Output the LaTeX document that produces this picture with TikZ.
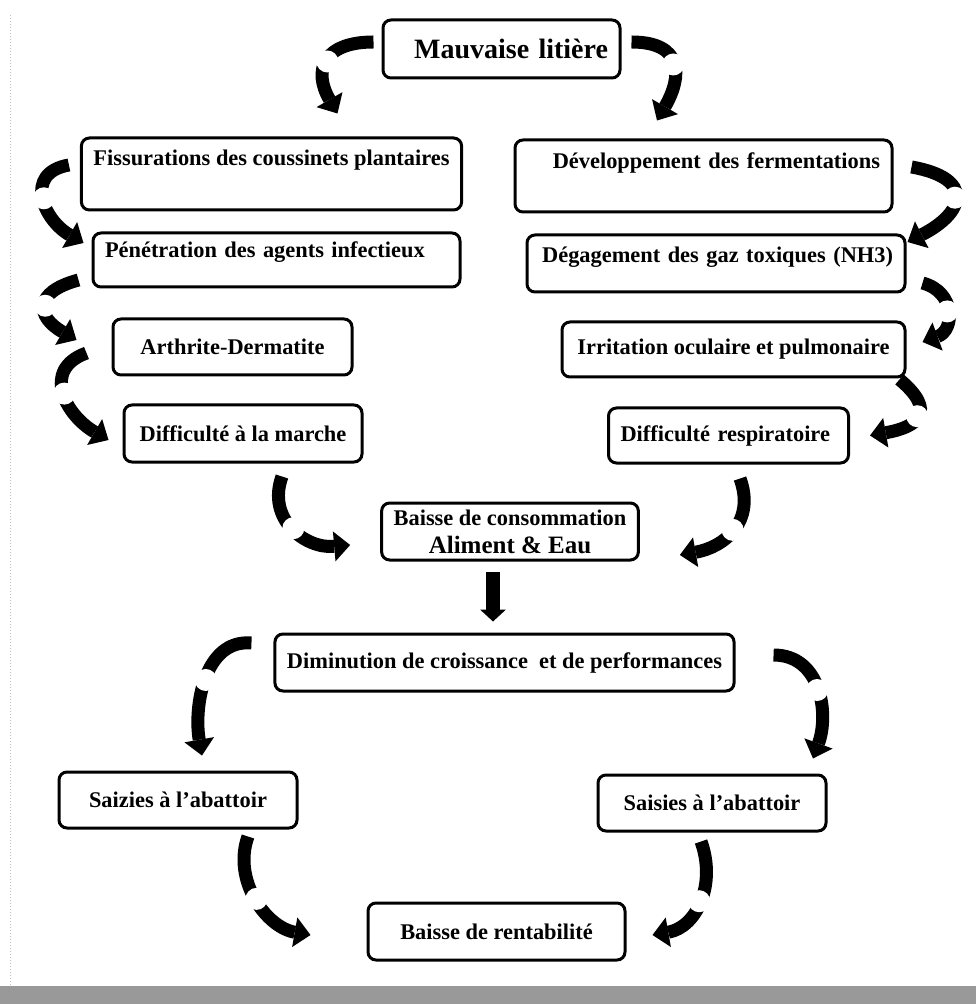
\documentclass[tikz,border=0pt]{standalone}
\usepackage{fontspec}
\setmainfont{Liberation Serif}
\usetikzlibrary{arrows.meta}
\tikzset{
  >={Triangle[length=8pt,width=15pt,line width=0pt]},
  % boites
  boite/.style={draw=black,line width=1.5pt,rounded corners=4pt,fill=white,
                inner xsep=6pt,inner ysep=0pt,font=\fontsize{11.2}{13}\selectfont\bfseries},
  titre/.style={boite,font=\fontsize{14}{16}\selectfont\bfseries},
  taille/.style 2 args={minimum width=#1,minimum height=#2},
  agauche/.style={align=left,text width=#1},
  adroite/.style={align=right,text width=#1},
  % fleches
  courbe/.style={->,draw=black,line width=6.5pt},
  coupe/.style={circle,fill=white,inner sep=0pt,minimum size=11pt},
  droite/.style={-{Triangle[length=6pt,width=13pt,line width=0pt]},draw=black,line width=7pt},
}
\begin{document}
\begin{tikzpicture}[x=0.5pt,y=0.5pt]
\useasboundingbox (0,0) rectangle (976,-1004);
  % bord du scan
  \draw[black!25,line width=0.5pt,densely dotted] (10,-15) -- (10,-985);
  \fill[black!40] (0,-986) rectangle (976,-1004);
  % boites
  \node[titre,taille={118.5pt}{29pt},adroite=106.5pt] (mauv) at (501.5,-49) {Mauvaise litière};
  \node[boite,taille={188.5pt}{36pt},text depth=16pt] (fiss) at (271.5,-174) {Fissurations des coussinets plantaires};
  \node[boite,taille={188.5pt}{36pt},text depth=15pt,adroite=176.5pt] (dev) at (703.5,-176) {Développement des fermentations};
  \node[boite,taille={183.5pt}{27pt},text depth=10pt,agauche=171.5pt] (pen) at (276.5,-260) {Pénétration des agents infectieux};
  \node[boite,taille={189pt}{28.5pt},text depth=9pt,adroite=177pt] (deg) at (716,-263.5) {Dégagement des gaz toxiques (NH3)};
  \node[boite,taille={119.5pt}{28pt}] (arth) at (232.5,-347) {Arthrite-Dermatite};
  \node[boite,taille={171.5pt}{27.5pt}] (irr) at (733.5,-349.5) {Irritation oculaire et pulmonaire};
  \node[boite,taille={119pt}{28.5pt}] (marche) at (243,-433.5) {Difficulté à la marche};
  \node[boite,taille={119.5pt}{27.5pt},agauche=108pt] (resp) at (728.5,-435.5) {Difficulté respiratoire};
  \node[boite,taille={128pt}{28.5pt},align=center] (conso) at (510,-531.5)
    {Baisse de consommation\\[1pt]{\fontsize{12.5}{14}\selectfont Aliment \& Eau}};
  \node[boite,taille={225.5pt}{28.5pt}] (dimin) at (504.5,-662.5) {Diminution de croissance~ et de performances};
  \node[boite,taille={119pt}{28pt}] (saisG) at (178,-800) {Saizies à l’abattoir};
  \node[boite,taille={114pt}{28pt}] (saisD) at (712,-803) {Saisies à l’abattoir};
  \node[boite,taille={128.5pt}{28.5pt}] (rent) at (496.5,-931.5) {Baisse de rentabilité};
  % fleches courbes
  \draw[courbe] ([shift={(-8,7)}]mauv.west) to[out=180,in=120,looseness=1.6] node[coupe]{} ([shift={(66,23)}]fiss.north);
  \draw[courbe] ([shift={(10,7)}]mauv.east) to[out=0,in=60,looseness=1.6] node[coupe]{} ([shift={(-46.5,18)}]dev.north);
  \draw[courbe] ([shift={(-11,9)}]fiss.west) to[out=190,in=150,looseness=1.5] node[coupe]{} ([shift={(-8,17)}]pen.west);
  \draw[courbe] ([shift={(-13,-20)}]pen.west) to[out=195,in=150,looseness=2] node[coupe]{} ([shift={(-35,7)}]arth.west);
  \draw[courbe] ([shift={(-25,-6)}]arth.west) to[out=200,in=150,looseness=1.4] node[coupe]{} ([shift={(-14,-6.5)}]marche.west);
  \draw[courbe] ([shift={(18,9)}]dev.east) to[out=-10,in=27,looseness=2.2] node[coupe]{} ([shift={(1,21.5)}]deg.east);
  \draw[courbe] ([shift={(16,-19.5)}]deg.east) to[out=-15,in=20,looseness=1.5] node[coupe]{} ([shift={(16,7.5)}]irr.east);
  \draw[courbe] ([shift={(-7,-1)}]irr.south east) to[out=-40,in=10,looseness=2] node[coupe]{} ([shift={(20,0)}]resp.east);
  \draw[courbe] ([shift={(39,-13)}]marche.south) to[out=250,in=185,looseness=1.2] node[coupe]{} ([shift={(-30,-13.5)}]conso.west);
  \draw[courbe] ([shift={(11.5,-14)}]resp.south) to[out=290,in=10,looseness=1.2] node[coupe]{} ([shift={(40,-23.5)}]conso.east);
  \draw[courbe] ([shift={(-22,19.5)}]dimin.west) to[out=175,in=100] node[coupe]{} ([shift={(24,15)}]saisG.north);
  \draw[courbe] ([shift={(38,7.5)}]dimin.east) to[out=0,in=70,looseness=1.1] node[coupe]{} ([shift={(101,15)}]saisD.north);
  \draw[courbe] ([shift={(70,-7)}]saisG.south) to[out=250,in=170] node[coupe]{} ([shift={(-56,-3.5)}]rent.west);
  \draw[courbe] ([shift={(-11,-9)}]saisD.south) to[out=290,in=10,looseness=1.1] node[coupe]{} ([shift={(26,-3.5)}]rent.east);
  % fleche droite
  \draw[droite] ([shift={(-17,-10)}]conso.south) -- ([shift={(-11.5,11)}]dimin.north);
\end{tikzpicture}
\end{document}
